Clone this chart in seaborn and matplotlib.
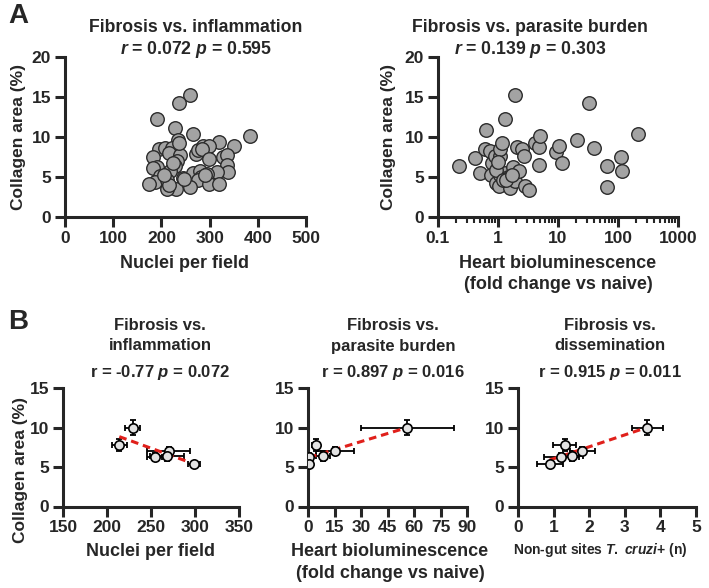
import numpy as np
import matplotlib
matplotlib.use("Agg")
import matplotlib.pyplot as plt
import seaborn as sns
import pandas as pd

sns.set_style("ticks")
plt.rcParams['font.family'] = ['Liberation Sans', 'DejaVu Sans']
plt.rcParams['font.weight'] = 'bold'
plt.rcParams['mathtext.fontset'] = 'custom'
plt.rcParams['mathtext.it'] = 'Liberation Sans:bold:italic'
plt.rcParams['mathtext.rm'] = 'Liberation Sans:bold'

# ---- panel A, left: collagen vs nuclei per field
nuclei = [260, 237, 190, 228, 265, 383, 234, 319, 350, 194, 208, 222, 215, 239, 183,
          232, 271, 275, 287, 299, 285, 299, 327, 337, 336, 339, 316, 229, 218, 190,
          183, 197, 186, 175, 211, 244, 265, 280, 294, 282, 276, 298, 319, 260, 231,
          211, 215, 236, 246, 290, 205, 225]
collagen_a1 = [15.3, 14.3, 12.3, 11.1, 10.4, 10.1, 9.6, 9.4, 8.9, 8.5, 8.6, 8.6, 8.0, 7.7, 7.5,
               7.0, 7.9, 8.4, 8.9, 8.9, 8.5, 7.3, 7.5, 7.7, 6.5, 5.6, 5.6, 6.4, 5.8, 6.3,
               6.1, 5.1, 4.4, 4.1, 4.6, 4.9, 5.5, 5.8, 5.4, 5.0, 4.6, 4.1, 4.1, 3.8, 3.5,
               3.5, 4.0, 9.3, 4.8, 5.2, 5.3, 6.8]

# ---- panel A, right: collagen vs heart bioluminescence
biolum = [0.224, 0.42, 0.51, 0.64, 0.60, 0.73, 0.79, 0.77, 0.91, 1.04, 1.06, 0.88, 1.1,
          1.09, 1.18, 1.29, 1.29, 1.47, 1.6, 1.56, 1.78, 1.94, 1.94, 2.1, 2.2, 2.5, 2.7,
          2.8, 3.3, 4.2, 4.8, 5.1, 4.8, 9.4, 10.2, 11.7, 20.7, 32.5, 39.8, 65, 65, 113,
          118, 215, 0.94, 1.2, 1.0, 1.37, 1.7]
collagen_a2 = [6.4, 7.4, 5.5, 10.9, 8.5, 8.2, 6.8, 5.3, 4.2, 3.9, 5.3, 7.6, 7.6,
               8.5, 9.3, 12.3, 5.5, 5.0, 5.0, 3.6, 6.2, 4.5, 15.3, 8.8, 5.8, 8.5, 7.6,
               3.9, 3.4, 9.3, 8.8, 10.1, 6.5, 8.1, 8.9, 6.8, 9.6, 14.2, 8.6, 6.4, 3.7, 7.5,
               5.8, 10.4, 5.9, 4.6, 6.9, 4.6, 5.2]

# ---- panel B: group means (6 groups)
collagen_b = [10.0, 7.8, 7.05, 6.4, 6.3, 5.35]
collagen_b_err = [1.0, 0.8, 0.5, 0.6, 0.5, 0.3]
nuclei_b = [229, 214, 270, 268, 254, 299]
nuclei_b_err = [8, 8.5, 24.5, 19, 8, 7]
biolum_b = [56.3, 4.7, 15.2, 8.5, 0.6, 0.6]
biolum_b_err = [26.3, 2.2, 10.7, 4, 0.5, 0.4]
sites_b = [3.63, 1.31, 1.81, 1.52, 1.22, 0.89]
sites_b_err = [0.44, 0.32, 0.35, 0.3, 0.5, 0.36]

W, H = 709, 588
fig = plt.figure(figsize=(W / 100, H / 100), dpi=100)


def px_axes(x0, x1, ytop, ybot):
    return fig.add_axes([x0 / W, 1 - ybot / H, (x1 - x0) / W, (ybot - ytop) / H])


def style(ax):
    sns.despine(ax=ax)
    for s in ['left', 'bottom']:
        ax.spines[s].set_linewidth(2.2)
    ax.tick_params(width=2.2, length=7, labelsize=12.5, pad=3)
    ax.tick_params(which='minor', width=1.5, length=4)
    for lab in ax.get_xticklabels() + ax.get_yticklabels():
        lab.set_fontweight('bold')
    ax.set_xlabel('')
    ax.set_ylabel('')


def ftext(x, y, s, size=12.5, **kw):
    fig.text(x / W, 1 - y / H, s, ha=kw.pop('ha', 'center'), va=kw.pop('va', 'center'),
             fontsize=size, fontweight='bold', **kw)


top_kw = dict(s=95, color='#a3a3a3', edgecolor='#2b2b2b', linewidth=1.0, zorder=3)

# A left
ax1 = px_axes(65, 306, 57, 217)
sns.scatterplot(x=nuclei, y=collagen_a1, ax=ax1, clip_on=False, **top_kw)
ax1.set_xlim(0, 500)
ax1.set_ylim(0, 20)
ax1.set_xticks([0, 100, 200, 300, 400, 500])
ax1.set_yticks([0, 5, 10, 15, 20])
style(ax1)

# A right
ax2 = px_axes(438, 678, 57, 217)
sns.scatterplot(x=biolum, y=collagen_a2, ax=ax2, clip_on=False, **top_kw)
ax2.set_xscale('log')
ax2.set_xlim(0.1, 1000)
ax2.set_ylim(0, 20)
ax2.set_xticks([0.1, 1, 10, 100, 1000])
ax2.set_xticklabels(['0.1', '1', '10', '100', '1000'])
ax2.set_yticks([0, 5, 10, 15, 20])
style(ax2)


def panel_b(ax, x, xerr, xlim, xticks):
    df = pd.DataFrame({'x': x, 'y': collagen_b})
    ax.errorbar(x, collagen_b, xerr=xerr, yerr=collagen_b_err, fmt='none',
                ecolor='black', elinewidth=1.3, capsize=2.5, capthick=1.3, zorder=2)
    sns.regplot(data=df, x='x', y='y', ax=ax, scatter=False, ci=None,
                line_kws=dict(color='#e0201b', ls=(0, (2.5, 1.6)), lw=2.2, zorder=3))
    sns.scatterplot(data=df, x='x', y='y', ax=ax, s=45, color='#e2e2e2',
                    edgecolor='black', linewidth=1.2, zorder=4)
    ax.set_xlim(*xlim)
    ax.set_ylim(0, 15)
    ax.set_xticks(xticks)
    ax.set_yticks([0, 5, 10, 15])
    style(ax)


ax3 = px_axes(63, 239, 388, 506.5)
panel_b(ax3, nuclei_b, nuclei_b_err, (150, 350), [150, 200, 250, 300, 350])
ax4 = px_axes(308, 467, 388, 506.5)
panel_b(ax4, biolum_b, biolum_b_err, (0, 90), [0, 15, 30, 45, 60, 75, 90])
ax5 = px_axes(518, 696, 388, 506.5)
panel_b(ax5, sites_b, sites_b_err, (0, 5), [0, 1, 2, 3, 4, 5])

# panel letters
ftext(18, 16, 'A', size=20)
ftext(18, 322, 'B', size=20)

# titles A
ftext(196, 28, 'Fibrosis vs. inflammation', size=12.7)
ftext(196, 49, r'$r$ = 0.072 $p$ = 0.595', size=12.7)
ftext(530, 28, 'Fibrosis vs. parasite burden', size=12.7)
ftext(530, 49, r'$r$ = 0.139 $p$ = 0.303', size=12.7)

# titles B
ftext(160, 326, 'Fibrosis vs.', size=12)
ftext(160, 346, 'inflammation', size=12)
ftext(160, 373, r'r = -0.77 $p$ = 0.072', size=12)
ftext(393, 326, 'Fibrosis vs.', size=12)
ftext(393, 346, 'parasite burden', size=12)
ftext(393, 373, r'r = 0.897 $p$ = 0.016', size=12)
ftext(610, 326, 'Fibrosis vs.', size=12)
ftext(610, 346, 'dissemination', size=12)
ftext(610, 373, r'r = 0.915 $p$ = 0.011', size=12)

# axis labels
ftext(19, 137, 'Collagen area (%)', rotation=90)
ftext(389, 137, 'Collagen area (%)', rotation=90)
ftext(21, 470, 'Collagen area (%)', rotation=90)
ftext(185, 263, 'Nuclei per field', size=13)
ftext(558, 263, 'Heart bioluminescence', size=13)
ftext(558, 285, '(fold change vs naive)', size=13)
ftext(150, 552, 'Nuclei per field', size=13)
ftext(390, 552, 'Heart bioluminescence', size=13)
ftext(390, 573, '(fold change vs naive)', size=13)
ftext(600, 550, r'Non-gut sites $T.$ $cruzi$+ (n)', size=10)

fig.savefig('out.png', dpi=100)
